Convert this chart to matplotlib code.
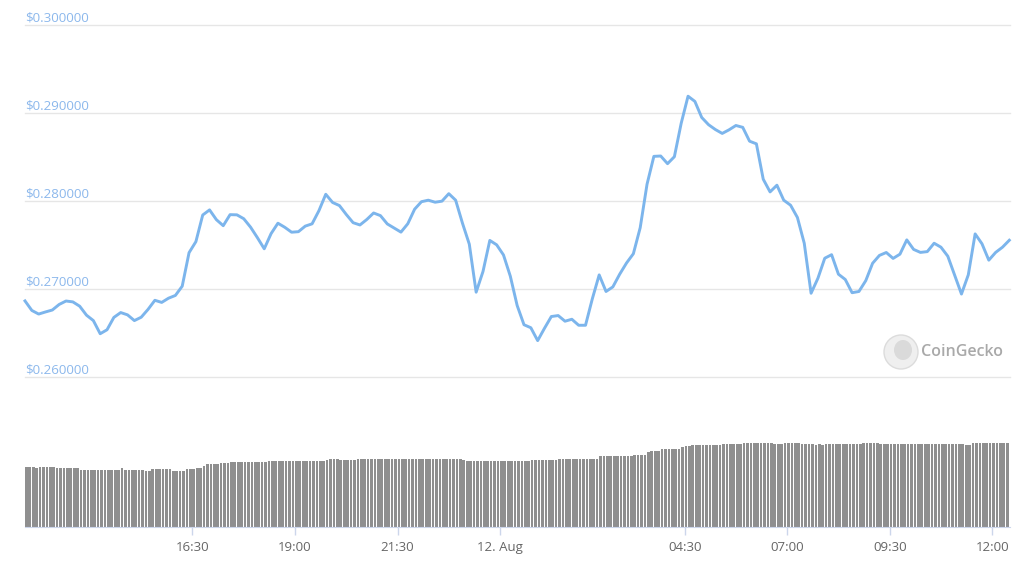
import matplotlib
matplotlib.use("Agg")
import pandas as pd
import matplotlib.pyplot as plt
from matplotlib.patches import Ellipse

plt.rcParams["font.family"] = ["Open Sans", "DejaVu Sans"]

# price every 10 minutes, from 11 Aug 12:25 to 12 Aug 12:25
price = [
    0.26866, 0.26758, 0.26717, 0.26741, 0.26763, 0.26826, 0.26865, 0.26855, 0.26806, 0.26704, 0.26643, 0.26494,
    0.26539, 0.26679, 0.26734, 0.26708, 0.26643, 0.26681, 0.26770, 0.26873, 0.26849, 0.26897, 0.26928, 0.27033,
    0.27413, 0.27538, 0.27840, 0.27898, 0.27787, 0.27719, 0.27844, 0.27842, 0.27798, 0.27702, 0.27583, 0.27457,
    0.27629, 0.27747, 0.27701, 0.27645, 0.27651, 0.27714, 0.27740, 0.27889, 0.28075, 0.27982, 0.27947, 0.27846,
    0.27753, 0.27727, 0.27789, 0.27863, 0.27833, 0.27739, 0.27693, 0.27646, 0.27741, 0.27906, 0.27991, 0.28008,
    0.27985, 0.27997, 0.28082, 0.28008, 0.27747, 0.27509, 0.26965, 0.27199, 0.27552, 0.27502, 0.27387, 0.27146,
    0.26814, 0.26596, 0.26562, 0.26416, 0.26556, 0.26689, 0.26700, 0.26636, 0.26658, 0.26590, 0.26590, 0.26891,
    0.27161, 0.26973, 0.27025, 0.27169, 0.27296, 0.27401, 0.27696, 0.28189, 0.28505, 0.28509, 0.28422, 0.28501,
    0.28881, 0.29187, 0.29128, 0.28946, 0.28864, 0.28809, 0.28765, 0.28806, 0.28855, 0.28834, 0.28677, 0.28647,
    0.28246, 0.28102, 0.28178, 0.28008, 0.27951, 0.27812, 0.27520, 0.26953, 0.27123, 0.27350, 0.27390, 0.27169,
    0.27109, 0.26959, 0.26973, 0.27096, 0.27293, 0.27382, 0.27415, 0.27348, 0.27396, 0.27558, 0.27450, 0.27416,
    0.27425, 0.27520, 0.27475, 0.27373, 0.27157, 0.26944, 0.27162, 0.27626, 0.27514, 0.27328, 0.27416, 0.27475,
    0.27554,
]

# 24h volume every 5 minutes (relative units)
volume = [
    60.3, 60.3, 60.3, 58.7, 60.0, 60.0, 60.0, 60.0, 60.0, 58.7, 58.7, 58.7, 58.7, 58.7, 58.7, 58.7, 57.3, 57.3, 57.3, 57.3, 57.3, 57.3, 57.3, 57.3,
    57.3, 57.3, 57.3, 57.3, 58.7, 57.3, 57.3, 57.3, 57.3, 57.3, 57.3, 56.3, 56.3, 57.7, 57.7, 57.7, 57.7, 57.7, 57.7, 56.3, 56.3, 56.3, 56.3, 58.3,
    58.3, 58.3, 59.3, 59.3, 61.0, 62.7, 62.7, 62.7, 62.7, 63.7, 63.7, 63.7, 65.0, 65.0, 65.0, 65.0, 65.0, 65.0, 65.0, 65.0, 65.0, 65.0, 65.0, 66.3,
    66.3, 66.3, 66.3, 66.3, 66.3, 66.3, 66.3, 66.3, 66.3, 66.3, 66.3, 66.3, 66.3, 66.3, 66.3, 66.3, 67.0, 68.0, 68.0, 68.0, 67.0, 67.0, 67.0, 67.0,
    67.0, 68.3, 68.3, 68.3, 68.3, 68.3, 68.3, 68.3, 68.3, 68.3, 68.3, 68.3, 68.3, 68.3, 68.3, 68.3, 68.3, 68.3, 68.3, 68.3, 68.3, 68.3, 68.3, 68.3,
    68.3, 68.3, 68.3, 68.3, 68.3, 68.3, 68.3, 68.3, 67.5, 66.5, 66.5, 66.5, 66.5, 66.5, 66.5, 66.5, 66.5, 66.5, 66.5, 66.5, 66.5, 66.5, 66.5, 66.5,
    66.5, 66.5, 66.5, 66.5, 67.0, 67.0, 67.0, 67.0, 67.0, 67.0, 67.0, 67.0, 68.0, 68.0, 68.0, 68.0, 68.0, 68.0, 68.0, 68.0, 68.0, 68.0, 68.0, 68.0,
    71.0, 71.0, 71.0, 71.0, 71.0, 71.0, 71.0, 71.0, 71.0, 71.0, 72.0, 72.0, 72.0, 72.0, 74.7, 76.3, 76.3, 76.3, 77.7, 77.7, 77.7, 77.7, 77.7, 77.7,
    79.7, 81.3, 81.3, 82.0, 82.0, 82.0, 82.0, 82.0, 82.0, 82.0, 82.0, 82.0, 82.7, 82.7, 83.0, 83.0, 83.0, 83.0, 83.7, 83.7, 83.7, 83.7, 83.7, 83.7,
    83.7, 83.7, 84.3, 83.0, 83.0, 83.0, 84.3, 84.3, 84.3, 84.3, 84.3, 83.0, 83.0, 83.0, 83.0, 82.5, 83.5, 82.5, 83.0, 83.0, 83.0, 83.0, 83.0, 83.0,
    83.0, 83.0, 83.0, 83.0, 83.0, 84.0, 84.0, 84.0, 84.0, 84.0, 83.5, 83.0, 83.0, 83.0, 83.0, 83.0, 83.0, 83.0, 83.0, 83.0, 83.0, 83.0, 83.0, 83.0,
    83.0, 83.0, 83.0, 83.0, 83.0, 83.0, 83.0, 83.0, 83.0, 83.0, 83.0, 82.0, 82.0, 84.3, 84.3, 84.3, 84.3, 84.3, 84.3, 84.3, 84.3, 84.3, 84.3, 84.3,
]

y_ticks = [0.26, 0.27, 0.28, 0.29, 0.30]
tick_times = ["2021-08-11 16:30", "2021-08-11 19:00", "2021-08-11 21:30", "2021-08-12 00:00",
              "2021-08-12 04:30", "2021-08-12 07:00", "2021-08-12 09:30", "2021-08-12 12:00"]
tick_labels = ["16:30", "19:00", "21:30", "12. Aug", "04:30", "07:00", "09:30", "12:00"]

start = pd.Timestamp("2021-08-11 12:25")
price_times = pd.date_range(start, periods=len(price), freq="10min")
volume_times = pd.date_range(start, periods=len(volume), freq="5min")
xlim = (start, start + pd.Timedelta(hours=24, minutes=1))

W, H = 1024, 566
fig = plt.figure(figsize=(W / 100, H / 100), dpi=100)

# price panel
ax = fig.add_axes([25 / W, 1 - 377.3 / H, 985 / W, (377.3 - 24.5) / H])
for v in y_ticks:
    ax.axhline(v, color="#e6e6e6", lw=1, zorder=0, clip_on=False)
    ax.annotate("${:.6f}".format(v), xy=(0, v), xycoords=("axes fraction", "data"),
                xytext=(0, 5), textcoords="offset points", ha="left", va="center",
                color="#8cb8ec", fontsize=9.6)
ax.plot(price_times, price, color="#7cb5ec", lw=2.1, solid_joinstyle="round", clip_on=False)
ax.set_xlim(xlim)
ax.set_ylim(0.26, 0.30)
ax.set_xticks([])
ax.set_yticks([])
for s in ax.spines.values():
    s.set_visible(False)

# volume panel
vax = fig.add_axes([25 / W, 1 - 527 / H, 985 / W, 100 / H])
vax.bar(volume_times, volume, width=3.9 / 1440, align="edge", color="#8f8f8f", linewidth=0)
vax.set_xlim(xlim)
vax.set_ylim(0, 100)
vax.set_yticks([])
vax.set_xticks(pd.to_datetime(tick_times))
vax.set_xticklabels(tick_labels)
vax.tick_params(axis="x", color="#ccd6eb", length=6, width=1, labelcolor="#666666",
                labelsize=9.5, pad=4)
for name, s in vax.spines.items():
    s.set_visible(name == "bottom")
vax.spines["bottom"].set_color("#ccd6eb")

# watermark
cx, cy = 901, 352
fig.patches.append(Ellipse((cx / W, 1 - cy / H), 34 / W, 34 / H, transform=fig.transFigure,
                           facecolor="#efefef", edgecolor="#dcdcdc", lw=1))
fig.patches.append(Ellipse(((cx + 2) / W, 1 - (cy - 2) / H), 18 / W, 20 / H, transform=fig.transFigure,
                           facecolor="#dadada", edgecolor="none"))
fig.text(921 / W, 1 - cy / H, "CoinGecko", ha="left", va="center", color="#a9a9a9",
         fontsize=11.5, fontweight="semibold")

fig.savefig("out.png", dpi=100)
